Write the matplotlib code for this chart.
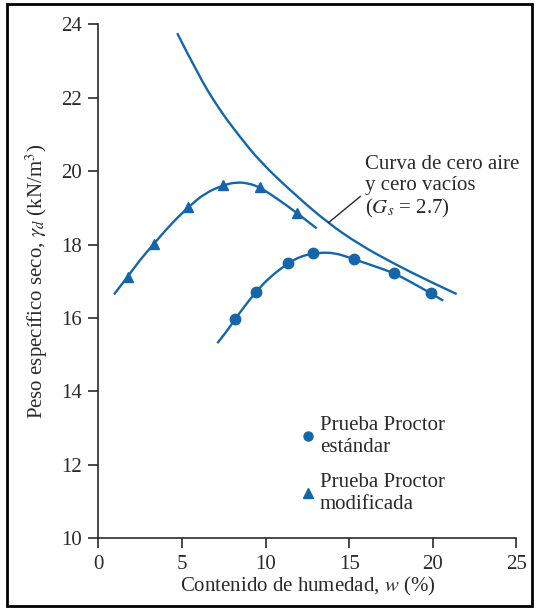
import numpy as np
import matplotlib
matplotlib.use("Agg")
import matplotlib.pyplot as plt
from matplotlib.patches import Rectangle, PathPatch
from matplotlib.path import Path

plt.rcParams['font.family'] = ['Liberation Serif', 'DejaVu Serif']
plt.rcParams['mathtext.fontset'] = 'stix'

# compaction test points (w in %, dry unit weight in kN/m3)
w_std = [8.16, 9.42, 11.35, 12.85, 15.28, 17.69, 19.89]
gd_std = [15.96, 16.71, 17.49, 17.76, 17.60, 17.22, 16.67]

w_mod = [1.75, 3.32, 5.37, 7.47, 9.66, 11.85]
gd_mod = [17.12, 18.02, 19.02, 19.62, 19.56, 18.87]

# hand-drawn fitted curves through the test points
w_std_curve = [7.11, 7.67, 8.16, 8.76, 9.42, 10.26, 11.35, 12.05, 12.85, 14.04,
               15.28, 16.44, 17.69, 18.83, 19.89, 20.62]
gd_std_curve = [15.31, 15.63, 15.96, 16.33, 16.71, 17.12, 17.49, 17.67, 17.76, 17.79,
                17.60, 17.42, 17.22, 16.94, 16.67, 16.47]

w_mod_curve = [0.93, 1.75, 2.48, 3.32, 4.28, 5.37, 6.37, 7.47, 8.26, 8.96,
               9.66, 10.75, 11.85, 13.05]
gd_mod_curve = [16.64, 17.12, 17.58, 18.02, 18.53, 19.02, 19.40, 19.62, 19.70, 19.67,
                19.56, 19.23, 18.87, 18.44]

# zero air voids curve, Gs = 2.7
w_zav = [4.71, 5.97, 7.17, 8.36, 9.70, 11.65, 13.74, 15.64, 17.63, 19.63, 21.42]
gd_zav = [23.76, 22.62, 21.72, 20.99, 20.24, 19.40, 18.58, 17.99, 17.49, 17.03, 16.65]

blue = '#1566a8'
ink = '#2a2a2a'
fs = 15


def smooth_curve(ax, xs, ys, **kw):
    # quadratic bezier path: the listed points act as control points,
    # the curve runs through the midpoints between them
    p = np.column_stack([xs, ys])
    verts = [p[0]]
    codes = [Path.MOVETO]
    for i in range(1, len(p) - 1):
        verts += [p[i], (p[i] + p[i + 1]) / 2 if i < len(p) - 2 else p[i + 1]]
        codes += [Path.CURVE3, Path.CURVE3]
    patch = PathPatch(Path(verts, codes), fill=False, **kw)
    ax.add_patch(patch)


fig = plt.figure(figsize=(5.38, 6.10), dpi=100)
ax = fig.add_axes([0.183, 0.118, 0.777, 0.842])

smooth_curve(ax, w_zav, gd_zav, edgecolor=blue, lw=1.7)
smooth_curve(ax, w_std_curve, gd_std_curve, edgecolor=blue, lw=1.7)
smooth_curve(ax, w_mod_curve, gd_mod_curve, edgecolor=blue, lw=1.7)
std_pts, = ax.plot(w_std, gd_std, 'o', color=blue, ms=7.5, ls='none',
                   label='Prueba Proctor\nestándar')
mod_pts, = ax.plot(w_mod, gd_mod, '^', color=blue, ms=7.5, ls='none',
                   label='Prueba Proctor\nmodificada')

# label for the zero air voids curve
ax.plot([13.77, 15.66], [18.60, 19.31], color=ink, lw=1.0)
ax.text(15.97, 19.55, 'Curva de cero aire\ny cero vacíos\n($G_s$ = 2.7)',
        ha='left', va='center', fontsize=fs, color=ink, linespacing=1.15)

leg = ax.legend(handles=[std_pts, mod_pts], loc='upper left',
                bbox_to_anchor=(0.44, 0.274), frameon=False, fontsize=fs,
                handlelength=0.7, handletextpad=0.2, labelspacing=0.77,
                labelcolor=ink)
for h in leg.legend_handles:
    h.set_markersize(6.5)

ax.set_xlim(0, 25)
ax.set_ylim(10, 24)
ax.set_xticks(np.arange(0, 26, 5))
ax.set_yticks(np.arange(10, 25, 2))
ax.spines['top'].set_visible(False)
ax.spines['right'].set_visible(False)
for s in ['left', 'bottom']:
    ax.spines[s].set_color(ink)
    ax.spines[s].set_linewidth(1.2)
ax.tick_params(direction='out', length=7, width=1.2, color=ink,
               labelsize=fs, labelcolor=ink, pad=5)

ax.set_xlabel('Contenido de humedad, $w$ (%)', fontsize=fs, color=ink, labelpad=1)
ax.set_ylabel(r'Peso específico seco, $\gamma_d$ (kN/m$^3$)', fontsize=fs,
              color=ink, labelpad=8)

# outer frame
fig.patches.append(Rectangle((0.013, 0.006), 0.975, 0.988, transform=fig.transFigure,
                             fill=False, edgecolor='black', lw=2))

fig.savefig('out.png', dpi=100)
